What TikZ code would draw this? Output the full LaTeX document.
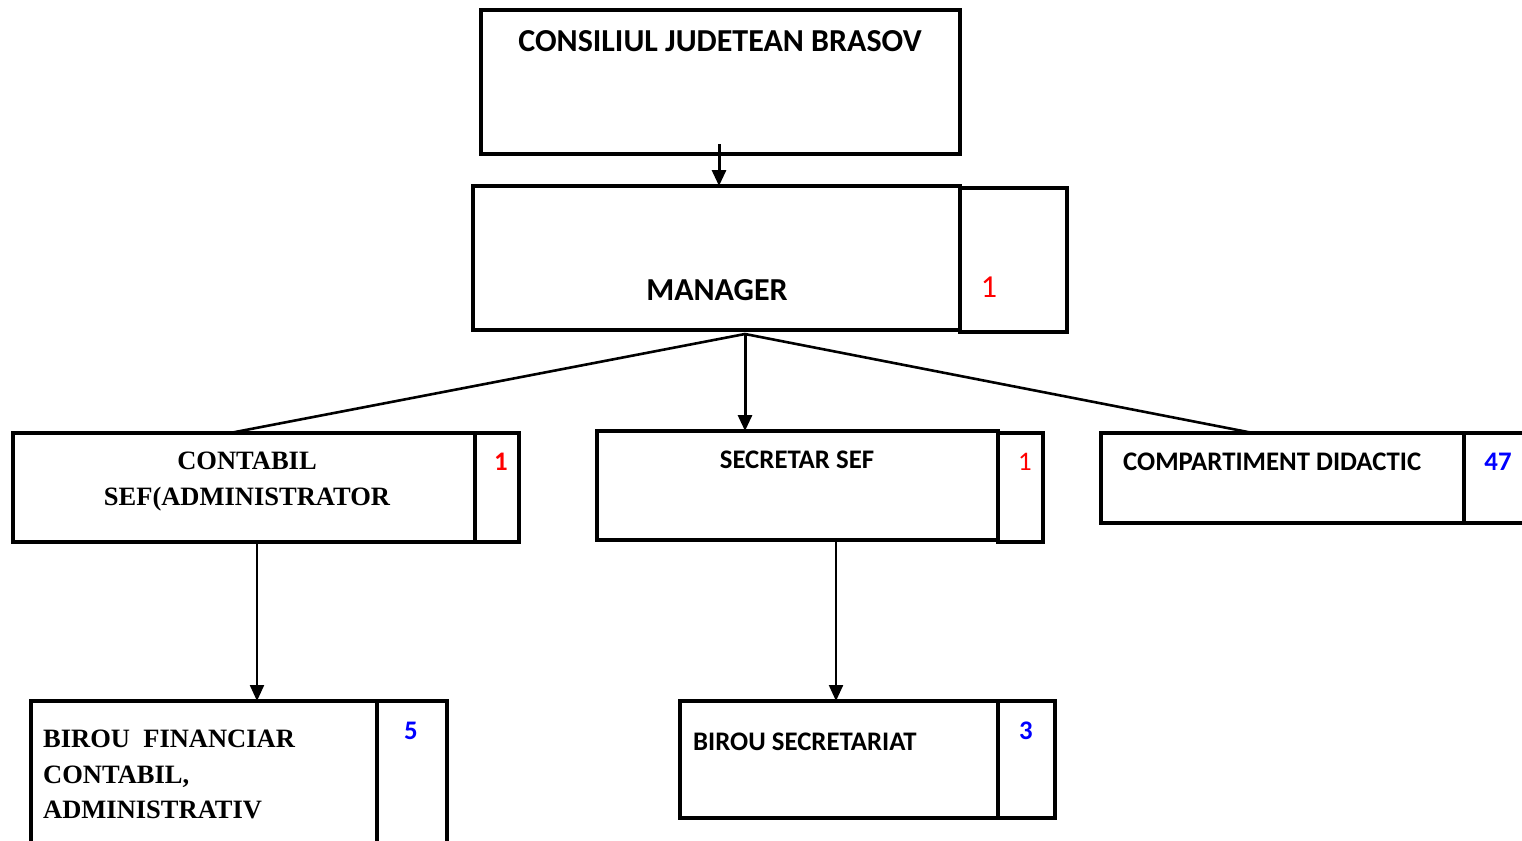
\documentclass[tikz,border=0pt]{standalone}
\usepackage{fontspec}
\setmainfont{Liberation Serif}
\newfontfamily\calfam{Carlito}
\usetikzlibrary{arrows.meta,calc}
\definecolor{numred}{RGB}{255,0,0}
\definecolor{numblue}{RGB}{0,0,255}
\begin{document}
\begin{tikzpicture}[x=1pt,y=-1pt,
  box/.style={draw, line width=3.6pt, inner sep=0pt, outer sep=0pt, anchor=north west},
  conn/.style={line width=2.6pt},
  arr/.style={conn, -{Triangle[width=14pt,length=16pt]}},
  bigtxt/.style={font=\calfam\bfseries\fontsize{32}{38}\selectfont, inner sep=0pt},
  midtxt/.style={font=\calfam\bfseries\fontsize{26.8}{32}\selectfont, inner sep=0pt},
  serifttxt/.style={font=\bfseries\fontsize{26.5}{35.5}\selectfont, inner sep=0pt},
  numbold/.style={font=\calfam\bfseries\fontsize{26.8}{32}\selectfont, inner sep=0pt, anchor=base},
  numreg/.style={font=\calfam\fontsize{26.8}{32}\selectfont, inner sep=0pt, anchor=base},
  numbig/.style={font=\calfam\fontsize{32}{38}\selectfont, inner sep=0pt, anchor=base}
]
\useasboundingbox (0,0) rectangle (1522,840);
% boxes
\node[box, minimum width=479pt, minimum height=144pt] (cjb) at (481,10) {};
\node[box, minimum width=487pt, minimum height=144pt] (mgr) at (473,186) {};
\node[box, minimum width=107pt, minimum height=144pt] (mgrn) at (960,188) {};
\node[box, minimum width=462pt, minimum height=109pt] (cont) at (13,433) {};
\node[box, minimum width=44pt, minimum height=109pt] (contn) at (475,433) {};
\node[box, minimum width=401pt, minimum height=109pt] (sec) at (597,431) {};
\node[box, minimum width=45pt, minimum height=109pt] (secn) at (998,433) {};
\node[box, minimum width=363pt, minimum height=90pt] (comp) at (1101,433) {};
\node[box, minimum width=70pt, minimum height=90pt] (compn) at (1464,433) {};
\node[box, minimum width=346pt, minimum height=160pt] (fin) at (31,701) {};
\node[box, minimum width=70pt, minimum height=160pt] (finn) at (377,701) {};
\node[box, minimum width=318pt, minimum height=117pt] (bsec) at (680,701) {};
\node[box, minimum width=57pt, minimum height=117pt] (bsecn) at (998,701) {};
% texts
\node[bigtxt, anchor=base] (tcjb) at (720,52) {CONSILIUL JUDETEAN BRASOV};
\node[bigtxt, anchor=base] (tmgr) at (717,300) {MANAGER};
\node[numbig, text=numred] (nmgr) at (989,297) {1};
\node[serifttxt, align=center, anchor=north] (tcont) at (247,452) {CONTABIL\\SEF(ADMINISTRATOR};
\node[numbold, text=numred] (ncont) at (501,470) {1};
\node[midtxt, anchor=base] (tsec) at (797,468) {SECRETAR SEF};
\node[numreg, text=numred] (nsec) at (1025,470) {1};
\node[midtxt, anchor=base west] (tcomp) at (1123,470) {COMPARTIMENT DIDACTIC};
\node[numbold, text=numblue] (ncomp) at (1498,470) {47};
\node[serifttxt, align=left, anchor=north west] (tfin) at (43,730) {BIROU\ \ FINANCIAR\\CONTABIL,\\ADMINISTRATIV};
\node[numbold, text=numblue] (nfin) at (411,739) {5};
\node[midtxt, anchor=base west] (tbsec) at (693,750) {BIROU SECRETARIAT};
\node[numbold, text=numblue] (nbsec) at (1026,739) {3};
% connectors
\coordinate (hub) at ($(mgr.south west)+(272,4)$);
\draw[arr, line width=3pt] ($(cjb.south)+(-1.5,-10)$) -- ($(mgr.north west)+(246,0)$);
\draw[conn] (hub) -- ($(cont.north west)+(217,0)$);
\draw[arr, line width=3pt] (hub) -- (hub |- sec.north);
\draw[conn] (hub) -- ($(comp.north west)+(152,0)$);
\draw[arr, line width=2.2pt] ($(cont.south west)+(244,0)$) -- ($(fin.north west)+(226,0)$);
\draw[arr, line width=2.2pt] ($(sec.south west)+(239,0)$) -- ($(bsec.north west)+(156,0)$);
\end{tikzpicture}
\end{document}
